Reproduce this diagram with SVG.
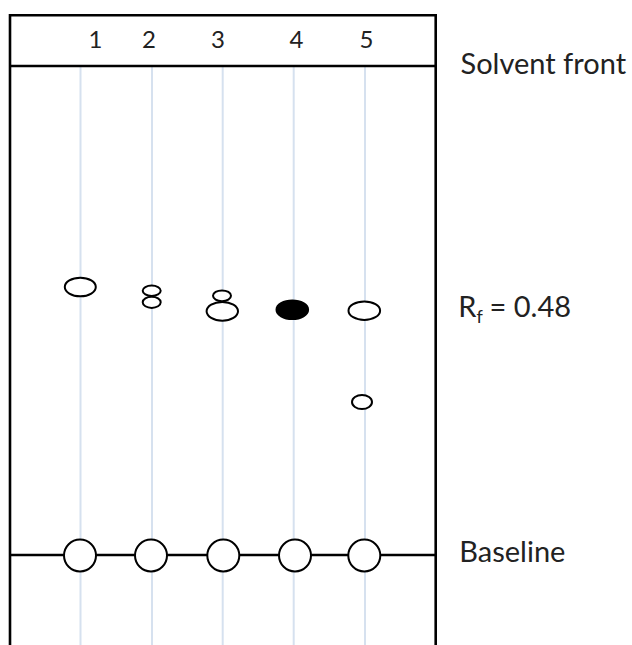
<svg xmlns="http://www.w3.org/2000/svg" width="632" height="645" viewBox="0 0 632 645">
<style>
.lane{stroke:#d6e1ef;stroke-width:2;fill:none}
.frame{stroke:#000;stroke-width:2.6;fill:none}
.spot{stroke:#000;stroke-width:2;fill:#fff}
.filled{stroke:#000;stroke-width:2;fill:#000}
.num{font-family:Lato,"Noto Sans",sans-serif;font-size:24px;fill:#222;text-anchor:middle}
.lbl{font-family:Lato,"Noto Sans",sans-serif;font-size:29px;fill:#222}
</style>
<rect width="632" height="645" fill="#fff"/>
<g id="lanes">
<line class="lane" x1="80.5" y1="66" x2="80.5" y2="645"/>
<line class="lane" x1="152" y1="66" x2="152" y2="645"/>
<line class="lane" x1="222.7" y1="66" x2="222.7" y2="645"/>
<line class="lane" x1="293.7" y1="66" x2="293.7" y2="645"/>
<line class="lane" x1="365" y1="66" x2="365" y2="645"/>
</g>
<g id="plate">
<polyline class="frame" points="10,645 10,15.3 435.7,15.3 435.7,645"/>
<line class="frame" x1="10" y1="66" x2="435.7" y2="66"/>
<line class="frame" x1="10" y1="555" x2="435.7" y2="555"/>
</g>
<g id="lane-numbers">
<text class="num" x="95.5" y="48.3">1</text>
<text class="num" x="149" y="48.3">2</text>
<text class="num" x="218" y="48.3">3</text>
<text class="num" x="296.5" y="48.3">4</text>
<text class="num" x="366.5" y="48.3">5</text>
</g>
<g id="spots">
<ellipse class="spot" cx="80.3" cy="287" rx="15.5" ry="9.3"/>
<ellipse class="spot" cx="151.7" cy="290.7" rx="9" ry="5.2"/>
<ellipse class="spot" cx="151.7" cy="302.3" rx="9" ry="5.6"/>
<ellipse class="spot" cx="222" cy="295.8" rx="9" ry="5.4"/>
<ellipse class="spot" cx="222.3" cy="311.3" rx="15.7" ry="9.4"/>
<ellipse class="filled" cx="292.3" cy="309.7" rx="15.8" ry="9.3"/>
<ellipse class="spot" cx="364.3" cy="310.7" rx="15.8" ry="9.2"/>
<ellipse class="spot" cx="362" cy="402" rx="10" ry="7"/>
</g>
<g id="baseline-spots">
<circle class="spot" cx="80" cy="555.5" r="16"/>
<circle class="spot" cx="151" cy="555.5" r="16"/>
<circle class="spot" cx="223.3" cy="555.5" r="16"/>
<circle class="spot" cx="295" cy="555.5" r="16"/>
<circle class="spot" cx="364.3" cy="555.5" r="16"/>
</g>
<g id="label-solvent-front"><text class="lbl" x="460.5" y="74.3">Solvent front</text></g>
<g id="label-rf"><text class="lbl" x="458.3" y="317.3">R<tspan font-size="18" dy="5.5">f</tspan><tspan x="489.5" dy="-5.5">= 0.48</tspan></text></g>
<g id="label-baseline"><text class="lbl" x="459.3" y="561.7">Baseline</text></g>
</svg>
